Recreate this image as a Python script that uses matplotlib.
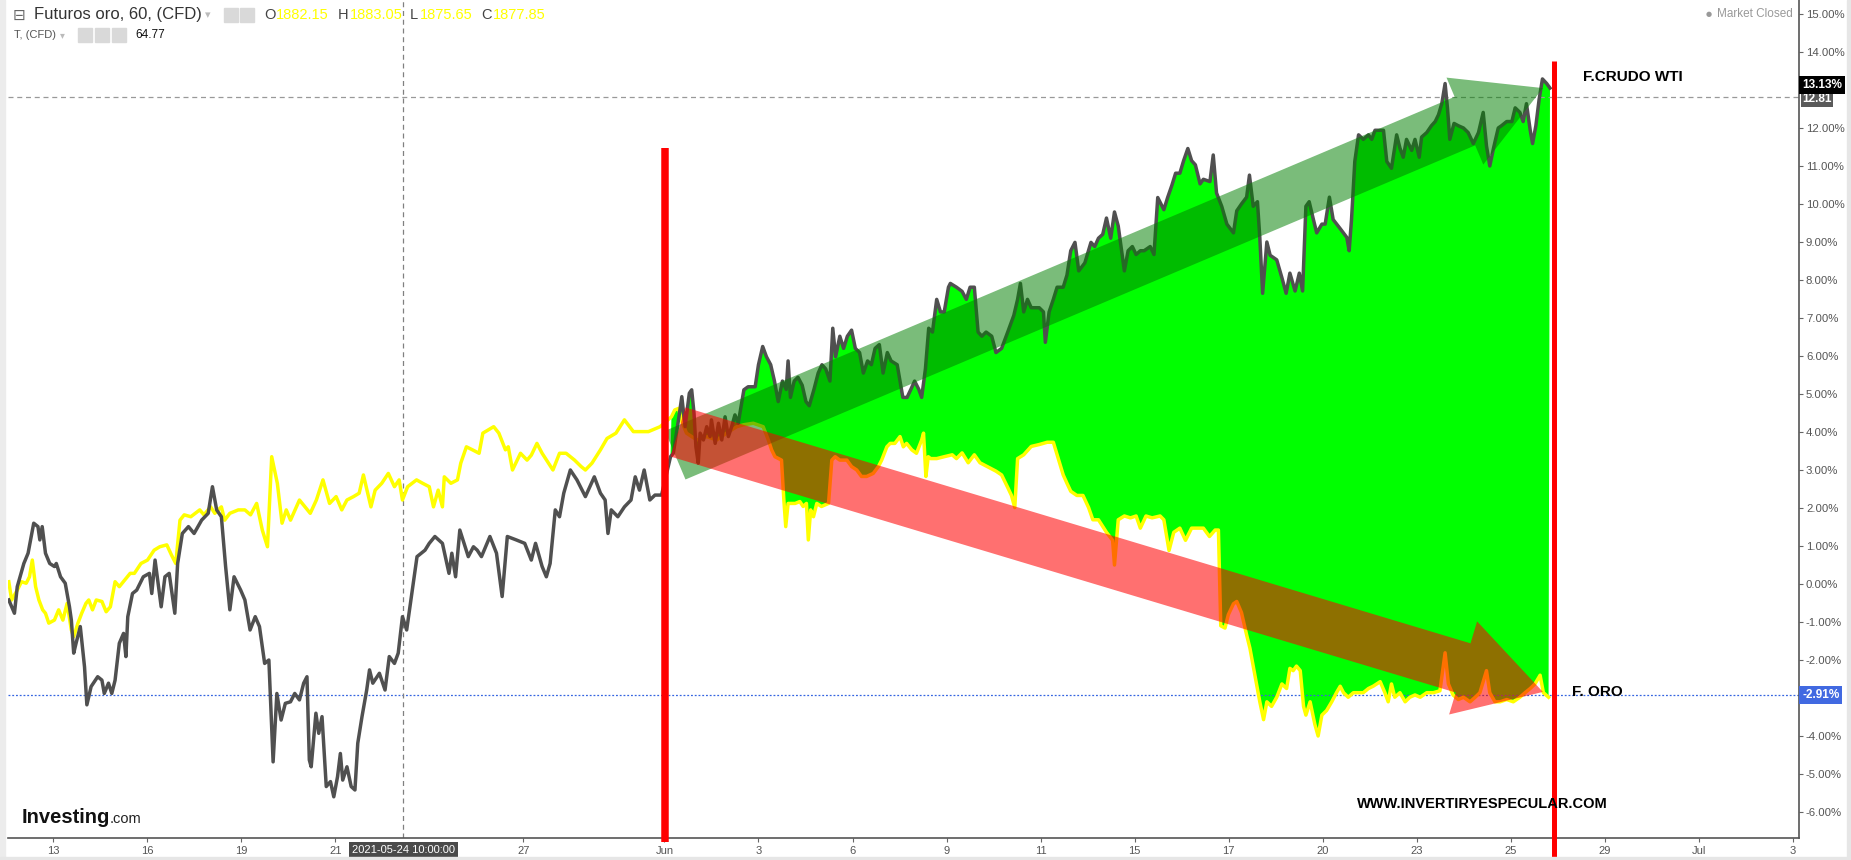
import numpy as np
import matplotlib
matplotlib.use('Agg')
import matplotlib.pyplot as plt
from matplotlib.patches import Rectangle, ArrowStyle

plt.rcParams['font.family'] = ['Liberation Sans', 'DejaVu Sans']

# x = trading-day index (0 = May 13), y = % change
wti_day = [-0.94, -0.82, -0.76, -0.62, -0.53, -0.41, -0.32, -0.28, -0.23, -0.16, -0.07, 0.03, 0.07, 0.16, 0.26,
           0.35, 0.39, 0.44, 0.49, 0.58, 0.67, 0.72, 0.81, 0.95, 1.04, 1.09, 1.18, 1.25, 1.32, 1.41, 1.50, 1.55,
           1.59, 1.69, 1.78, 1.92, 2.05, 2.10, 2.17, 2.30, 2.38, 2.47, 2.59, 2.65, 2.75, 2.88, 3.00, 3.16, 3.30,
           3.39, 3.48, 3.58, 3.67, 3.76, 3.85, 3.99, 4.08, 4.19, 4.30, 4.39, 4.50, 4.59, 4.68, 4.76, 4.85, 4.94,
           5.05, 5.14, 5.24, 5.33, 5.40, 5.45, 5.49, 5.59, 5.65, 5.72, 5.81, 5.90, 5.97, 6.05, 6.11, 6.16, 6.25,
           6.34, 6.42, 6.48, 6.57, 6.67, 6.73, 6.80, 6.94, 7.06, 7.15, 7.26, 7.34, 7.43, 7.52, 7.61, 7.74, 7.91,
           8.00, 8.12, 8.28, 8.42, 8.48, 8.56, 8.65, 8.74, 8.83, 8.94, 9.02, 9.11, 9.29, 9.43, 9.55, 9.66, 9.85,
           10.03, 10.17, 10.26, 10.40, 10.49, 10.57, 10.68, 10.77, 10.86, 11.00, 11.14, 11.32, 11.51, 11.64,
           11.74, 11.80, 11.87, 12.01, 12.15, 12.29, 12.38, 12.47, 12.57, 12.69, 12.80, 12.94,
           13.13, 13.19, 13.30, 13.37, 13.44, 13.53, 13.58, 13.63, 13.67, 13.72, 13.76, 13.83, 13.90, 13.97,
           14.00, 14.08, 14.15, 14.22, 14.29, 14.36, 14.43, 14.50, 14.57, 14.64, 14.69, 14.78, 14.93,
           15.00, 15.09, 15.17, 15.26, 15.34, 15.42, 15.51, 15.59, 15.63, 15.68, 15.76, 15.84, 15.93, 16.01,
           16.08, 16.18, 16.27, 16.35, 16.43, 16.52, 16.58, 16.64, 16.73, 16.81, 16.89, 16.98, 17.06, 17.15,
           17.23, 17.32, 17.40, 17.48, 17.57, 17.65, 17.74, 17.82, 17.95, 18.07, 18.16, 18.24, 18.32, 18.41,
           18.47, 18.55, 18.62, 18.70, 18.79, 18.87, 18.95, 19.04, 19.08, 19.21, 19.33, 19.42, 19.50, 19.59,
           19.67, 19.75, 19.84, 19.96, 20.05, 20.17, 20.30, 20.43, 20.51, 20.57, 20.64, 20.72, 20.80, 20.89,
           20.97, 21.06, 21.10, 21.18, 21.27, 21.35, 21.48, 21.56, 21.64, 21.73, 21.81, 21.94, 22.07, 22.15,
           22.23, 22.32, 22.40, 22.49, 22.57, 22.65, 22.78, 22.86, 22.95, 23.03, 23.12, 23.20, 23.33, 23.41,
           23.49, 23.62, 23.70, 23.79, 23.87, 23.96, 24.04, 24.13, 24.21, 24.29,
           24.39, 24.46, 24.60, 24.67, 24.74, 24.85, 24.96, 25.10, 25.17, 25.27, 25.38, 25.44, 25.52, 25.61,
           25.66, 25.72, 25.81, 25.88, 26.02, 26.13, 26.22, 26.30, 26.41, 26.50, 26.57, 26.64, 26.71, 26.80,
           26.87, 26.98, 27.05, 27.14, 27.22, 27.37, 27.51, 27.56, 27.61, 27.68, 27.76, 27.86, 27.97, 28.04,
           28.11, 28.22, 28.29, 28.36, 28.46, 28.57, 28.64, 28.71, 28.78, 28.89, 28.96, 29.05, 29.10, 29.21,
           29.31, 29.39, 29.46, 29.53, 29.60, 29.65, 29.70, 29.79, 29.88, 29.99, 30.09, 30.20, 30.31, 30.41,
           30.48, 30.55, 30.63, 30.73, 30.80, 30.91, 31.02, 31.09, 31.19, 31.26, 31.33, 31.41, 31.46, 31.53,
           31.60, 31.67, 31.76, 31.83]
wti_pct = [-0.42, -0.77, -0.07, 0.54, 0.81, 1.60, 1.51, 1.16, 1.51, 0.81, 0.54, 0.46, 0.54, 0.19, 0.02,
           -0.60, -0.95, -1.82, -1.56, -1.12, -2.18, -3.18, -2.70, -2.44, -2.53, -2.88, -2.61, -2.88, -2.53,
           -1.56, -1.30, -1.91, -0.86, -0.25, -0.16, 0.19, 0.28, -0.25, 0.63, -0.60, 0.19, 0.28, -0.77, 0.54,
           1.33, 1.51, 1.33, 1.68, 1.86, 2.56, 1.95, 1.77, 0.46, -0.68, 0.19, -0.16, -0.42, -1.21, -0.86, -1.12,
           -2.09, -2.00, -4.68, -2.88, -3.58, -3.14, -3.10, -2.88, -3.05, -2.61, -2.44, -4.63, -4.81, -3.40,
           -3.93, -3.49, -5.33, -5.20, -5.60, -5.07, -4.46, -5.16, -4.81, -5.33, -5.42, -4.19, -3.49, -2.79,
           -2.26, -2.61, -2.35, -2.79, -1.91, -2.09, -1.82, -0.86, -1.21, -0.42, 0.72, 0.89, 1.07, 1.25, 1.07,
           0.28, 0.81, 0.19, 1.42, 1.07, 0.72, 0.98, 0.89, 0.72, 1.25, 0.81, -0.33, 1.25, 1.16, 1.07, 0.63,
           1.07, 0.46, 0.19, 0.54, 1.95, 1.77, 2.39, 3.00, 2.74, 2.30, 2.82, 2.39, 2.21, 1.33, 1.95, 1.77, 2.03,
           2.21, 2.82, 2.47, 3.00, 2.21, 2.34, 2.34,
           3.35, 3.44, 4.32, 4.93, 4.14, 5.02, 5.11, 4.49, 3.61, 3.18, 3.97, 3.79, 4.14, 3.88,
           4.32, 3.70, 4.23, 3.79, 4.40, 3.88, 4.14, 4.45, 4.23, 4.75, 5.11, 5.19, 5.19,
           5.77, 6.25, 5.98, 5.77, 5.34, 4.80, 5.34, 5.12, 5.87, 4.91, 5.34, 5.44, 5.23, 4.80,
           4.69, 5.12, 5.55, 5.77, 5.66, 5.34, 6.73, 5.98, 6.52, 6.20, 6.52, 6.68, 6.20, 6.09,
           5.55, 5.87, 5.77, 6.20, 6.30, 5.55, 6.09, 5.87, 5.77, 4.91, 4.91, 5.12, 5.34, 5.12,
           4.91, 5.66, 6.73, 6.63, 7.49, 7.16, 7.16, 7.81, 7.91, 7.81, 7.70, 7.49, 7.81, 7.81,
           6.63, 6.52, 6.63, 6.52, 6.09, 6.20, 6.63, 7.07, 7.49, 7.91, 7.16, 7.49, 7.27, 7.27,
           7.27, 7.16, 6.36, 7.16, 7.49, 7.81, 7.81, 8.13, 8.77, 8.99, 8.24, 8.45, 8.99, 8.88,
           9.10, 9.20, 9.63, 9.10, 9.79, 9.42, 8.24, 8.77, 8.88, 8.67, 8.77, 8.77, 8.88, 8.67,
           10.17, 9.85, 10.17, 10.49, 10.81, 10.81, 11.14, 11.46, 11.14, 11.03,
           10.53, 10.65, 10.59, 11.29, 10.29, 9.94, 9.47, 9.24, 9.82, 10.00, 10.18, 10.76, 9.94, 10.06,
           9.12, 7.65, 9.00, 8.65, 8.53, 8.06, 7.65, 8.18, 7.71, 8.18, 7.71, 9.94, 10.06, 9.59,
           9.24, 9.47, 9.47, 10.18, 9.59, 9.35, 9.12, 8.77, 9.59, 11.12, 11.82, 11.70, 11.82, 11.70,
           11.94, 11.94, 11.94, 11.12, 10.94, 11.82, 11.47, 11.23, 11.70, 11.41, 11.70, 11.23, 11.76, 11.88,
           12.06, 12.17, 12.35, 12.64, 13.17, 12.53, 11.70, 12.12, 12.06, 12.00, 11.88, 11.59, 11.88, 12.41,
           11.53, 11.00, 11.47, 12.00, 12.06, 12.17, 12.17, 12.53, 12.41, 12.17, 12.64, 11.94, 11.59, 12.06,
           12.76, 13.29, 13.17, 13.05]

gold_day = [-0.94, -0.88, -0.76, -0.67, -0.57, -0.50, -0.44, -0.37, -0.30, -0.22, -0.16, -0.09, 0.03, 0.12,
            0.21, 0.30, 0.39, 0.44, 0.53, 0.61, 0.70, 0.76, 0.84, 0.92, 1.04, 1.13, 1.22, 1.32, 1.41, 1.64,
            1.73, 1.87, 2.01, 2.15, 2.27, 2.42, 2.52, 2.61, 2.70, 2.79, 2.93, 3.12, 3.21, 3.35, 3.44, 3.58,
            3.65, 3.76, 3.94, 4.08, 4.20, 4.33, 4.45, 4.56, 4.65, 4.77, 4.87, 4.96, 5.05, 5.24, 5.47, 5.60,
            5.74, 5.88, 6.02, 6.14, 6.25, 6.39, 6.51, 6.60, 6.76, 6.85, 6.99, 7.13, 7.26, 7.36, 7.43, 7.54,
            7.73, 7.86, 8.00, 8.09, 8.19, 8.28, 8.32, 8.46, 8.60, 8.67, 8.79, 8.92, 9.06, 9.14, 9.37, 9.48,
            9.62, 9.68, 9.77, 9.94, 10.08, 10.17, 10.29, 10.40, 10.63, 10.77, 10.91, 11.09, 11.23, 11.32,
            11.46, 11.64, 11.78, 11.97, 12.15, 12.34, 12.52, 12.66,
            12.91, 13.15, 13.22, 13.30, 13.37, 13.47, 13.69, 13.90, 14.11, 14.32, 14.54, 14.68, 14.89, 15.10,
            15.21, 15.28, 15.35, 15.49, 15.54, 15.58, 15.63, 15.78, 15.88, 15.95, 16.02, 16.06, 16.11, 16.17,
            16.24, 16.34, 16.49, 16.56, 16.63, 16.73, 16.88, 16.98, 17.09, 17.19, 17.30, 17.44, 17.55, 17.62,
            17.73, 17.80, 17.90, 18.01, 18.08, 18.15, 18.26, 18.36, 18.47, 18.51, 18.56, 18.61,
            18.66, 18.79, 18.95, 19.12, 19.21, 19.33, 19.46, 19.59, 19.71, 19.88, 20.05, 20.17, 20.30, 20.38,
            20.45, 20.51, 20.64, 20.80, 20.97, 21.14, 21.27, 21.35, 21.48, 21.56, 21.64, 21.77, 21.90, 22.02,
            22.11, 22.23, 22.40, 22.53, 22.57, 22.65, 22.78, 22.91, 23.03, 23.12, 23.24, 23.37, 23.54, 23.62,
            23.73, 23.83, 23.96, 24.08, 24.21, 24.34, 24.46, 24.59, 24.71, 24.78,
            24.83, 24.92, 24.99, 25.10, 25.17, 25.27, 25.38, 25.45, 25.52, 25.59, 25.66, 25.74, 25.81, 25.91,
            26.02, 26.13, 26.23, 26.30, 26.37, 26.44, 26.52, 26.59, 26.64, 26.73, 26.83, 26.90, 26.98, 27.08,
            27.19, 27.29, 27.37, 27.44, 27.54, 27.65, 27.76, 27.86, 27.97, 28.07, 28.22, 28.32, 28.39, 28.46,
            28.53, 28.64, 28.75, 28.85, 28.96, 29.07, 29.21, 29.35, 29.49, 29.60, 29.67, 29.77, 29.88, 29.99,
            30.13, 30.24, 30.34, 30.48, 30.55, 30.66, 30.77, 30.91, 31.05, 31.19, 31.30, 31.41, 31.51, 31.62,
            31.69, 31.80]
gold_pct = [0.06, -0.42, -0.16, 0.06, 0.02, 0.19, 0.63, -0.07, -0.42, -0.68, -0.77, -1.03, -0.95, -0.68,
            -0.95, -0.51, -1.21, -1.39, -1.03, -0.77, -0.51, -0.42, -0.68, -0.42, -0.46, -0.73, -0.60, 0.06,
            -0.07, 0.28, 0.28, 0.54, 0.63, 0.89, 0.98, 1.03, 0.76, 0.54, 1.68, 1.82, 1.77, 1.95, 1.82, 2.03,
            1.86, 2.03, 1.68, 1.86, 1.95, 1.95, 1.82, 2.12, 1.42, 0.98, 3.35, 2.65, 1.60, 1.95, 1.68, 2.21,
            1.86, 2.21, 2.74, 2.12, 2.30, 1.95, 2.21, 2.30, 2.39, 2.87, 2.03, 2.47, 2.65, 2.91, 2.56, 2.74,
            2.21, 2.56, 2.74, 2.65, 2.56, 2.03, 2.47, 2.03, 2.82, 2.65, 2.74, 3.18, 3.61, 3.53, 3.44, 3.97,
            4.14, 3.97, 3.53, 3.61, 3.00, 3.44, 3.26, 3.39, 3.70, 3.44, 3.00, 3.44, 3.44, 3.26, 3.09, 3.00,
            3.18, 3.53, 3.83, 3.97, 4.32, 4.01, 4.01, 4.01,
            4.14, 4.40, 4.58, 4.62, 4.27, 3.97, 3.79, 3.88, 3.79, 3.97, 4.14, 4.19, 4.23, 4.14,
            3.79, 3.53, 3.35, 3.26, 2.21, 1.51, 2.12, 2.12, 2.17, 2.04, 2.12, 1.16, 1.95, 1.77,
            2.12, 2.04, 2.12, 3.26, 3.35, 3.26, 3.26, 3.09, 3.00, 2.83, 2.83, 2.91, 3.09, 3.26,
            3.61, 3.70, 3.70, 3.88, 3.61, 3.70, 3.53, 3.44, 3.79, 3.97, 2.83, 3.35,
            3.30, 3.30, 3.35, 3.40, 3.30, 3.45, 3.19, 3.40, 3.19, 3.08, 2.97, 2.87, 2.54, 2.33,
            2.01, 3.30, 3.40, 3.62, 3.67, 3.73, 3.73, 3.40, 2.87, 2.65, 2.44, 2.33, 2.33, 2.01,
            1.69, 1.69, 1.36, 1.15, 0.50, 1.69, 1.79, 1.74, 1.79, 1.47, 1.79, 1.74, 1.79, 1.69,
            0.88, 1.36, 1.47, 1.15, 1.47, 1.47, 1.47, 1.25, 1.42, 1.42,
            -1.10, -1.16, -0.81, -0.52, -0.46, -0.75, -1.34, -1.69, -2.16, -2.63, -3.10, -3.57, -3.10, -3.22,
            -2.98, -2.63, -2.75, -2.22, -2.28, -2.16, -2.28, -3.22, -3.45, -3.10, -3.69, -4.00, -3.45, -3.33,
            -3.10, -2.86, -2.69, -2.86, -2.98, -2.86, -2.86, -2.86, -2.75, -2.69, -2.57, -2.86, -3.10, -2.63,
            -2.98, -2.86, -3.10, -2.98, -2.92, -2.98, -2.86, -2.86, -2.81, -1.81, -2.63, -2.92, -3.04, -2.98,
            -3.10, -2.98, -2.86, -2.28, -2.86, -3.10, -3.10, -3.04, -3.10, -2.98, -2.86, -2.75, -2.63, -2.40,
            -2.86, -2.98]

tick_days = [0, 2, 4, 6, 10, 13, 15, 17, 19, 21, 23, 25, 27, 29, 31, 33, 35, 37]
tick_labels = ['13', '16', '19', '21', '27', 'Jun', '3', '6', '9', '11', '15', '17', '20', '23', '25',
               '29', 'Jul', '3']
y_ticks = [v for v in range(-6, 16) if v not in (-3, 13)]

crosshair_day = 7.45
crosshair_label = '2021-05-24 10:00:00'
last_wti, prev_close, last_gold = 13.13, 12.81, -2.91
june_day, end_day = 13.01, 31.92
green_arrow = [(13.23, 3.39), (31.68, 13.05)]
red_arrow = [(13.29, 4.0), (31.68, -2.84)]

W, H = 1851, 860


def px(x, y):
    return x / W, 1 - y / H


fig = plt.figure(figsize=(W / 100, H / 100), dpi=100)
fig.patch.set_facecolor('white')
ax = fig.add_axes([8 / W, 1 - 838 / H, (1799 - 8) / W, 838 / H])
ax.set_xlim(-0.957, 37.125)
ax.set_ylim(-6.684, 15.368)

for s in ['left', 'top']:
    ax.spines[s].set_visible(False)
for s in ['bottom', 'right']:
    ax.spines[s].set_color('#555555')
    ax.spines[s].set_linewidth(1.2)

ax.yaxis.tick_right()
ax.set_yticks(y_ticks)
ax.set_yticklabels([f'{v:.2f}%' for v in y_ticks])
ax.set_xticks(tick_days)
ax.set_xticklabels(tick_labels)
ax.tick_params(axis='y', length=3, width=0.8, color='#666666', labelsize=8.2, labelcolor='#555555', pad=2)
ax.tick_params(axis='x', length=3, width=0.8, color='#666666', labelsize=8, labelcolor='#555555', pad=3)

# green area between the two series after June 1
wd = np.array(wti_day); wv = np.array(wti_pct)
gd = np.array(gold_day); gv = np.array(gold_pct)
mw = wd >= 13.1
mg = gd >= 13.1
ax.fill(np.concatenate([wd[mw], gd[mg][::-1]]), np.concatenate([wv[mw], gv[mg][::-1]]),
        color='#00ff00', lw=0, zorder=1)

ax.plot(gold_day, gold_pct, color='#ffff00', lw=2.5, zorder=2)
ax.plot(wti_day, wti_pct, color='#505050', lw=2.5, zorder=2.1)

ax.axhline(prev_close, color='#999999', lw=0.9, ls=(0, (4, 3)), zorder=1.5)
ax.axhline(last_gold, color='#3565e0', lw=0.9, ls=(0, (1.5, 1.5)), zorder=1.5)
ax.axvline(crosshair_day, color='#808080', lw=0.9, ls=(0, (4, 3)), zorder=1.5)

# trend arrows
ax.annotate('', xy=green_arrow[1], xytext=green_arrow[0], zorder=4,
            arrowprops=dict(arrowstyle=ArrowStyle.Simple(head_length=61, head_width=68, tail_width=38),
                            fc=(0, 0.5, 0, 0.52), ec='none', lw=0, shrinkA=0, shrinkB=0, mutation_scale=1))
ax.annotate('', xy=red_arrow[1], xytext=red_arrow[0], zorder=4.1,
            arrowprops=dict(arrowstyle=ArrowStyle.Simple(head_length=60, head_width=70, tail_width=37),
                            fc=(1, 0, 0, 0.56), ec='none', lw=0, shrinkA=0, shrinkB=0, mutation_scale=1))

# red vertical markers
ax.plot([june_day, june_day], [11.47, -6.79], color='#ff0000', lw=5.4, solid_capstyle='butt',
        clip_on=False, zorder=5)
ax.plot([end_day, end_day], [13.77, -7.26], color='#ff0000', lw=3.6, solid_capstyle='butt',
        clip_on=False, zorder=5)

# price boxes on the right axis
ytr = ax.get_yaxis_transform()
ax.text(1.0017, last_wti, f'{last_wti:.2f}%', transform=ytr, ha='left', va='center', fontsize=8.5,
        fontweight='bold', color='white', clip_on=False, zorder=10,
        bbox=dict(boxstyle='square,pad=0.25', fc='black', ec='none'))
ax.text(1.0017, prev_close - 0.05, f'{prev_close:.2f}', transform=ytr, ha='left', va='center', fontsize=8.5,
        fontweight='bold', color='white', clip_on=False, zorder=9,
        bbox=dict(boxstyle='square,pad=0.12', fc='#5a5a5a', ec='none'))
ax.text(1.0017, last_gold, f'{last_gold:.2f}%', transform=ytr, ha='left', va='center', fontsize=8.5,
        fontweight='bold', color='white', clip_on=False, zorder=10,
        bbox=dict(boxstyle='square,pad=0.25', fc='#4169e1', ec='none'))

# crosshair date label
ax.text(crosshair_day, -0.0143, crosshair_label, transform=ax.get_xaxis_transform(), ha='center',
        va='center', fontsize=8, color='white', clip_on=False, zorder=10,
        bbox=dict(boxstyle='square,pad=0.3', fc='#4a4a4a', ec='none'))

# frame strips
fig.patches.append(Rectangle((0, 0), 5 / W, 1, transform=fig.transFigure, color='#ececec', zorder=0))
fig.patches.append(Rectangle((0, 0), 1, 3 / H, transform=fig.transFigure, color='#e6e6e6', zorder=0))
fig.patches.append(Rectangle((1 - 4 / W, 0), 4 / W, 1, transform=fig.transFigure, color='#e6e6e6', zorder=0))

# header
fig.text(*px(13, 15), '⊟', fontsize=11, color='#666666', va='center', family='DejaVu Sans')
fig.text(*px(34, 15), 'Futuros oro, 60, (CFD)', fontsize=12, color='#333333', va='center')
fig.text(*px(205, 15), '▾', fontsize=8, color='#bbbbbb', va='center', family='DejaVu Sans')
for x0 in (224, 240):
    fig.patches.append(Rectangle(px(x0, 22), 14 / W, 14 / H, transform=fig.transFigure,
                                 color='#d9d9d9', zorder=10))
for lab, x_lab, val, x_val in [('O', 264, '1882.15', 276), ('H', 338, '1883.05', 350),
                               ('L', 410, '1875.65', 420), ('C', 481, '1877.85', 493)]:
    fig.text(*px(x_lab, 15), lab, fontsize=10.5, color='#444444', va='center')
    fig.text(*px(x_val, 15), val, fontsize=10.5, color='#ffff00', va='center')

fig.text(*px(14, 35), 'T, (CFD)', fontsize=8, color='#555555', va='center')
fig.text(*px(60, 35), '▾', fontsize=7, color='#bbbbbb', va='center', family='DejaVu Sans')
for x0 in (78, 95, 112):
    fig.patches.append(Rectangle(px(x0, 42), 14 / W, 14 / H, transform=fig.transFigure,
                                 color='#d9d9d9', zorder=10))
fig.text(*px(135, 35), '64.77', fontsize=8.5, color='#111111', va='center')

fig.text(*px(1706, 14), '●', fontsize=5, color='#999999', va='center', family='DejaVu Sans')
fig.text(*px(1717, 14), 'Market Closed', fontsize=8.5, color='#999999', va='center')

# annotations
fig.text(*px(1583, 77), 'F.CRUDO WTI', fontsize=11, fontweight='bold', color='black', va='center')
fig.text(*px(1572, 692), 'F. ORO', fontsize=11, fontweight='bold', color='black', va='center')
fig.text(*px(1357, 804), 'WWW.INVERTIRYESPECULAR.COM', fontsize=10.5, fontweight='bold', color='black',
         va='center')

fig.text(*px(22, 823), 'Investing', fontsize=14.5, fontweight='bold', color='#111111', va='baseline')
fig.text(*px(110, 823), '.com', fontsize=10.5, color='#222222', va='baseline')

fig.savefig('out.png', dpi=100)
